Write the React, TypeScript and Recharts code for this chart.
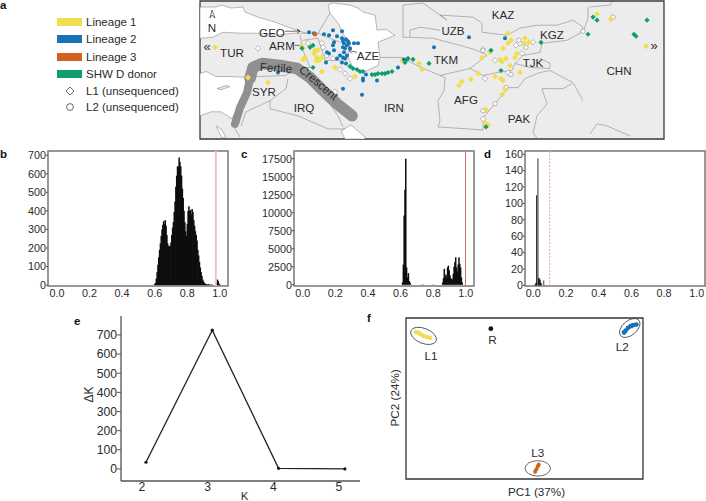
import React from 'react';
import { ComposedChart, ScatterChart, Scatter, Bar, Line, XAxis, YAxis, ReferenceLine, ReferenceArea } from 'recharts';

const FONT = '"Liberation Sans", Arial, sans-serif';
const INK = '#2b2b2b';
const YELLOW = '#F0DE50';
const BLUE = '#1474B5';
const ORANGE = '#D2601F';
const GREEN = '#0E9E6E';

type P = [number, number];

// ---------- legend ----------
const lineageNames = ['Lineage 1', 'Lineage 2', 'Lineage 3', 'SHW D donor'];
const lineageColors = [YELLOW, BLUE, ORANGE, GREEN];
const unsequencedNames = ['L1 (unsequenced)', 'L2 (unsequenced)'];

// ---------- map (map grid units) ----------
const blackSea: P[] = [[200,7],[216,7],[221,5],[231,8],[243,7],[245,12],[258,17],[275,22],[291,28],[306,33],[293,33],[278,35],[261,33],[241,33],[223,32],[213,37],[200,38]];
const mediterranean: P[] = [[200,73],[206,71],[216,76],[231,76],[248,77],[248,83],[243,96],[236,110],[232,118],[221,111],[211,111],[200,115]];
const cyprus: P[] = [[217,88],[226,85],[230,86],[221,89]];
const redSea: P[] = [[216,125],[221,128],[226,136],[222,137]];
const persianGulf: P[] = [[341,130],[351,124],[365,136],[365,138],[345,138]];
const caspian: P[] = [[328,5],[333,3],[350,5],[358,8],[363,12],[375,15],[377,30],[386,29],[395,35],[378,42],[380,57],[378,65],[363,72],[353,67],[348,57],[350,43],[345,37],[338,23],[330,13]];
const seas = [blackSea, mediterranean, redSea, persianGulf, caspian];

const crescentLevant: P[] = [[235,123],[240,107],[247,92],[250,78]];
const crescentArc: P[] = [[250,78],[253,67],[262,63],[280,65],[297,68],[310,77],[323,90],[337,103],[352,115]];

const borders: P[][] = [
  [[248,78],[258,76],[285,75],[295,70],[310,67]],
  [[288,78],[286,88],[270,100],[246,111],[241,125]],
  [[270,100],[270,108],[298,115],[328,128],[345,128]],
  [[233,125],[240,136]],
  [[305,70],[315,78],[325,90],[331,105],[338,115],[343,126]],
  [[300,35],[303,50],[310,67]],
  [[306,33],[318,33],[330,38],[340,42]],
  [[303,40],[318,38],[322,50],[325,60],[340,60],[348,57]],
  [[330,13],[318,33]],
  [[380,57],[402,57],[417,65],[433,72],[445,77],[444,90],[438,100],[440,120],[438,126],[483,129]],
  [[483,129],[483,117],[495,103],[508,87],[518,87],[525,78],[540,72],[550,70]],
  [[440,75],[470,68],[483,75],[497,72],[512,70],[515,63],[530,67],[550,68],[550,63],[540,58]],
  [[403,5],[403,37],[410,37],[410,30],[420,27],[440,30]],
  [[403,5],[423,3],[447,20],[440,15],[473,17],[482,23],[482,32],[507,35],[520,28],[537,25],[557,25],[573,20],[583,27],[580,33],[567,40],[542,43],[540,52],[523,55],[515,63]],
  [[410,37],[433,38],[460,45],[477,50],[487,55],[470,68]],
  [[590,7],[610,5],[612,2]],
  [[583,32],[588,18],[588,7]],
  [[550,70],[573,82],[583,100]],
  [[542,88],[563,88],[572,83]],
  [[542,88],[547,103],[537,115],[533,132],[537,137]],
  [[590,133],[597,123],[607,125],[630,135]],
];

const leaderLines: P[][] = [
  [[285,31],[300,31],[297,29],[300,31],[297,33]],
  [[295,45],[302,45]],
  [[357,52],[349,50],[352,48],[349,50],[352,53]],
  [[210,18],[212,10],[215,18],[212,15],[210,18]],
];

const bluePoints: P[] = [[309,32],[314,33],[324,34],[329,35],[333,30],[342,31],[337,36],[334,42],[333,45],[342,38],[343,41],[346,39],[348,41],[344,43],[347,45],[343,47],[345,48],[349,43],[354,43],[358,43],[350,48],[344,52],[340,55],[343,57],[345,58],[347,55],[342,62],[346,63],[337,58],[334,50],[329,53],[326,62],[343,88],[362,94],[366,74],[363,78],[363,80],[377,80],[398,67],[434,47],[407,59],[404,59],[327,52],[278,72],[469,37],[505,38]];
const greenPoints: P[] = [[313,67],[302,48],[310,47],[313,45],[350,66],[353,68],[357,69],[360,71],[363,71],[372,74],[375,74],[378,73],[382,73],[385,73],[388,72],[392,71],[405,62],[413,59],[429,63],[408,58],[491,50],[501,70],[541,42],[593,17],[597,20],[588,34],[647,20],[634,34],[636,36],[486,126]];
const yellowPoints: P[] = [[302,46],[315,50],[318,50],[314,53],[317,57],[322,57],[319,60],[316,60],[305,57],[303,59],[322,71],[335,67],[355,76],[248,77],[268,82],[215,47],[402,60],[419,63],[422,69],[508,33],[511,40],[508,43],[503,48],[525,38],[529,42],[524,43],[517,53],[515,57],[482,57],[490,52],[500,59],[506,58],[510,65],[502,61],[478,73],[495,76],[501,78],[503,80],[520,72],[471,79],[462,81],[459,85],[505,89],[502,94],[486,109],[485,122],[488,124],[597,14],[611,19],[646,46]];
const orangePoints: P[] = [[315,34]];
const whiteDiamonds: P[] = [[258,48],[322,43],[308,43],[333,58],[340,69],[345,73],[350,78],[335,91],[327,55],[323,47],[483,49],[495,60],[508,72],[485,78],[520,43],[516,45],[522,53],[533,42],[483,118]];
const whiteCircles: P[] = [[483,50],[506,87],[495,103],[483,110],[583,31],[613,17],[511,74],[519,40],[526,47]];

const countryNames = ['TUR','GEO','ARM','AZE','SYR','IRQ','IRN','TKM','UZB','KAZ','KGZ','TJK','AFG','PAK','CHN','N'];
const countryX = [232,272,282,368,264,304,394,446,453,503,552,533,466,519,619,212];
const countryY = [52,32,45,55,91,107,107,59,30,14,34,62,99,118,70,27];

// ---------- histograms ----------
const binsB = [0.595,0.6,0.605,0.61,0.615,0.62,0.625,0.63,0.635,0.64,0.645,0.65,0.655,0.66,0.665,0.67,0.675,0.68,0.685,0.69,0.695,0.7,0.705,0.71,0.715,0.72,0.725,0.73,0.735,0.74,0.745,0.75,0.755,0.76,0.765,0.77,0.775,0.78,0.785,0.79,0.795,0.8,0.805,0.81,0.815,0.82,0.825,0.83,0.835,0.84,0.845,0.85,0.855,0.86,0.865,0.87,0.875,0.88,0.885,0.89,0.895,0.9,0.905,0.91,0.915,0.92,0.925,0.93,0.935,0.94,0.945,0.95,0.975,0.98,0.985,0.99,0.995,1.0];
const countsB = [0,5,12,35,70,110,150,190,225,265,300,325,345,330,350,320,270,225,210,212,208,230,270,310,340,395,450,530,590,640,640,688,665,640,590,520,470,400,340,290,265,330,400,425,400,405,380,410,395,350,320,290,270,240,190,160,125,95,70,50,30,20,12,8,5,4,3,5,2,1,2,3,6,12,30,22,8,3];

const binsC = [0.612,0.617,0.622,0.627,0.632,0.637,0.642,0.648,0.654,0.66,0.735,0.8,0.858,0.863,0.868,0.873,0.878,0.883,0.888,0.893,0.898,0.903,0.908,0.913,0.918,0.923,0.928,0.933,0.938,0.943,0.948,0.953,0.958,0.963,0.968,0.973,0.978];
const countsC = [300,2800,9600,13200,17500,2400,1000,1600,500,250,60,40,300,900,2200,1200,1400,1000,2400,2650,2000,1300,900,800,700,1500,2500,3100,3800,2400,1800,2800,3800,2900,2400,1000,300];

const binsD = [0.012,0.017,0.022,0.028,0.034,0.04,0.046,0.063];
const countsD = [1,3,110,155,9,7,3,6];
const grayBinsD = [0.028, 0.063];

// ---------- delta K ----------
const kValues = [2.06, 3.07, 4.08, 5.09];
const deltaK = [35, 725, 3, 0];

// ---------- PCA ----------
const pcaL1: P[] = [[4.2,91.2],[5.2,90.8],[5.9,90.2],[6.9,89.3],[7.7,88.7],[9,88.1],[10.1,87.7]];
const pcaL2: P[] = [[92,91],[92.7,92.2],[93.7,93.9],[94.8,94.9],[95.8,95.5],[97.2,95.9]];
const pcaL3: P[] = [[54.5,4.5],[55,6.1],[55.6,7.8],[56,9]];
const pcaR: P[] = [[35.8,93.4]];
const pcaEllipseCentres: P[] = [[7.4,88.9],[94.4,93.8],[55.6,6.6]];
const pcaLabelNames = ['L1','L2','L3','R'];
const pcaLabelX = [10.5,91.3,55.6,36.5];
const pcaLabelY = [77,82.5,16.5,86.5];

const xy = (pts: P[]) => pts.map(([x, y]) => ({ x, y }));

const pathOf = (points: any[], close: boolean) =>
  points.map((q, i) => `${i ? 'L' : 'M'}${q.x ?? q.cx},${q.y ?? q.cy}`).join('') + (close ? 'Z' : '');

const noMark = () => <g />;

const Diamond = (s: number, fill: string, stroke = 'none', sw = 0) => (p: any) => (
  <path d={`M${p.cx},${p.cy - s}L${p.cx + s},${p.cy}L${p.cx},${p.cy + s}L${p.cx - s},${p.cy}Z`} fill={fill} stroke={stroke} strokeWidth={sw} />
);
const Dot = (r: number, fill: string, stroke = 'none', sw = 0) => (p: any) => (
  <circle cx={p.cx} cy={p.cy} r={r} fill={fill} stroke={stroke} strokeWidth={sw} />
);

function polygon(pts: P[], fill: string, key: string) {
  return (
    <Scatter key={key} data={xy(pts)} isAnimationActive={false} shape={noMark}
      line={(p: any) => <path d={pathOf(p.points, true)} fill={fill} stroke="#777" strokeWidth={0.5} />} />
  );
}
function polyline(pts: P[], stroke: string, width: number, key: string, round = false) {
  return (
    <Scatter key={key} data={xy(pts)} isAnimationActive={false} shape={noMark}
      line={(p: any) => <path d={pathOf(p.points, false)} fill="none" stroke={stroke} strokeWidth={width}
        strokeLinecap={round ? 'round' : 'butt'} strokeLinejoin="round" />} />
  );
}
function labelAt(text: string, x: number, y: number, size: number, rotate = 0, key = text) {
  return (
    <Scatter key={key} data={[{ x, y }]} isAnimationActive={false}
      shape={(p: any) => (
        <text x={p.cx} y={p.cy} textAnchor="middle" dominantBaseline="central" fontFamily={FONT} fontSize={size}
          fill={INK} transform={rotate ? `rotate(${rotate} ${p.cx} ${p.cy})` : undefined}>{text}</text>
      )} />
  );
}

function MapPanel() {
  return (
    <div style={{ position: 'absolute', left: 198, top: -1 }}>
      <ScatterChart width={468} height={142} margin={{ left: 2, right: 2, top: 2, bottom: 2 }}>
        <XAxis type="number" dataKey="x" domain={[200, 664]} hide />
        <YAxis type="number" dataKey="y" domain={[1, 138]} reversed hide width={0} />
        <ReferenceArea x1={200} x2={664} y1={1} y2={138} fill="#ECECEC" fillOpacity={1} stroke="none" />
        {seas.map((s, i) => polygon(s, '#ffffff', `sea${i}`))}
        {polygon(cyprus, '#ECECEC', 'cyprus')}
        {borders.map((b, i) => polyline(b, '#777', 0.5, `b${i}`))}
        {polyline(crescentLevant, '#909090', 8, 'bandLevant', true)}
        {polyline(crescentArc, '#909090', 11.5, 'bandArc', true)}
        {leaderLines.map((b, i) => polyline(b, '#333', 0.7, `l${i}`))}
        <Scatter data={xy(whiteDiamonds)} isAnimationActive={false} shape={Diamond(2.8, '#fff', '#888', 0.6)} />
        <Scatter data={xy(whiteCircles)} isAnimationActive={false} shape={Dot(2.2, '#fff', '#888', 0.6)} />
        <Scatter data={xy(yellowPoints)} isAnimationActive={false} shape={Diamond(3, YELLOW)} />
        <Scatter data={xy(bluePoints)} isAnimationActive={false} shape={Dot(2, BLUE)} />
        <Scatter data={xy(orangePoints)} isAnimationActive={false} shape={Dot(2.2, ORANGE)} />
        <Scatter data={xy(greenPoints)} isAnimationActive={false} shape={Diamond(2.6, GREEN)} />
        {countryNames.map((n, i) => labelAt(n, countryX[i], countryY[i], 11.6))}
        {labelAt('Fertile', 276, 67, 11.6, 3)}
        {labelAt('Crescent', 319, 82, 11.6, 40)}
        {labelAt('«', 207, 46, 13)}
        {labelAt('»', 654, 45, 13)}
        <ReferenceArea x1={200} x2={664} y1={1} y2={138} fill="none" stroke="#3a3a3a" strokeWidth={1.3} />
      </ScatterChart>
    </div>
  );
}

type HistProps = {
  left: number; right: number; bins: number[]; counts: number[]; yTicks: number[];
  domainX: [number, number]; domainY: [number, number]; refX: number; refColor: string; refWidth: number;
  refDash?: string; barWidth: number; gray?: number[];
};

function Histogram({ left, right, bins, counts, yTicks, domainX, domainY, refX, refColor, refWidth, refDash, barWidth, gray = [] }: HistProps) {
  const yW = 36;
  const table = bins.map((x, i) => ({ x, n: counts[i] }));
  const binShape = (p: any) => (
    <rect x={p.x + p.width / 2 - barWidth / 2} y={p.y} width={barWidth} height={Math.max(p.height, 0)}
      fill={gray.includes(p.payload?.x) ? '#777' : '#0d0d0d'} />
  );
  return (
    <div style={{ position: 'absolute', left: left - yW - 2, top: 147 }}>
      <ComposedChart width={right - left + yW + 8} height={160} data={table}
        margin={{ left: 2, right: 6, top: 4, bottom: 0 }}>
        <XAxis type="number" dataKey="x" domain={domainX} ticks={[0, 0.2, 0.4, 0.6, 0.8, 1]} tickFormatter={(v: number) => v.toFixed(1)}
          axisLine={false} tickLine={false} tickSize={0} tick={{ fontSize: 10.8, fontFamily: FONT, fill: INK }} tickMargin={3} height={21} interval={0} />
        <YAxis type="number" domain={domainY} ticks={yTicks} width={yW} axisLine={false} tickSize={2} tickMargin={0} interval={0}
          tickLine={{ stroke: '#555' }} tick={{ fontSize: 10.8, fontFamily: FONT, fill: INK }} />
        <Bar dataKey="n" isAnimationActive={false} fill="#0d0d0d" shape={binShape} />
        <ReferenceLine x={refX} stroke={refColor} strokeWidth={refWidth} strokeDasharray={refDash} />
        <ReferenceArea x1={domainX[0]} x2={domainX[1]} y1={domainY[0]} y2={domainY[1]} fill="none" stroke="#777" strokeWidth={1.5} />
      </ComposedChart>
    </div>
  );
}

function DeltaKPanel() {
  const table = kValues.map((k, i) => ({ k, d: deltaK[i] }));
  return (
    <div style={{ position: 'absolute', left: 75, top: 314 }}>
      <ComposedChart width={287} height={187} data={table} margin={{ left: 0, right: 2, top: 2, bottom: 0 }}>
        <XAxis type="number" dataKey="k" domain={[1.68, 5.32]} ticks={[2, 3, 4, 5]} interval={0}
          axisLine={{ stroke: '#555', strokeWidth: 1.5 }} tickLine={false} tickSize={0} tickMargin={1} height={20}
          tick={{ fontSize: 12.2, fontFamily: FONT, fill: INK }}
          label={{ value: 'K', position: 'insideBottom', offset: 1, fontSize: 11.5, fontFamily: FONT, fill: INK, dx: 4 }} />
        <YAxis type="number" domain={[-63, 799]} ticks={[0, 100, 200, 300, 400, 500, 600, 700]} interval={0} width={46}
          axisLine={{ stroke: '#333', strokeWidth: 1.1 }} tickSize={4} tickMargin={0} tickLine={{ stroke: '#555' }}
          tick={{ fontSize: 12.2, fontFamily: FONT, fill: INK }}
          label={{ value: 'ΔK', angle: -90, position: 'insideLeft', offset: 14, fontSize: 12, fontFamily: FONT, fill: INK, dy: 4 }} />
        <Line dataKey="d" type="linear" stroke="#222" strokeWidth={1.3} isAnimationActive={false}
          dot={{ r: 1.6, fill: '#111', stroke: '#111', strokeWidth: 0 }} />
      </ComposedChart>
    </div>
  );
}

const ellipseShapes = [
  { rx: 13.6, ry: 7.5, rot: 22 },
  { rx: 12, ry: 7.2, rot: -40 },
  { rx: 12.7, ry: 7.7, rot: 0 },
];

function PcaPanel() {
  return (
    <div style={{ position: 'absolute', left: 386, top: 316 }}>
      <ScatterChart width={260} height={185} margin={{ left: 0, right: 3, top: 2, bottom: 0 }}>
        <XAxis type="number" dataKey="x" domain={[0, 100]} ticks={[]} axisLine={false} tickLine={false} height={22}
          label={{ value: 'PC1 (37%)', position: 'insideBottom', offset: 5, dx: 12, fontSize: 11.7, fontFamily: FONT, fill: INK }} />
        <YAxis type="number" dataKey="y" domain={[0, 100]} ticks={[]} axisLine={false} tickLine={false} width={20}
          label={{ value: 'PC2 (24%)', angle: -90, position: 'insideLeft', offset: 9, dy: 28, fontSize: 11.7, fontFamily: FONT, fill: INK }} />
        <ReferenceArea x1={0} x2={100} y1={0} y2={100} fill="none" stroke="#333" strokeWidth={1.3} />
        {pcaEllipseCentres.map((c, i) => (
          <Scatter key={i} data={xy([c])} isAnimationActive={false} shape={(p: any) => (
            <ellipse cx={p.cx} cy={p.cy} rx={ellipseShapes[i].rx} ry={ellipseShapes[i].ry} fill="none" stroke="#444" strokeWidth={0.8}
              transform={`rotate(${ellipseShapes[i].rot} ${p.cx} ${p.cy})`} />
          )} />
        ))}
        <Scatter data={xy(pcaL1)} isAnimationActive={false} shape={Dot(2.2, YELLOW)} />
        <Scatter data={xy(pcaL2)} isAnimationActive={false} shape={Dot(2.4, BLUE)} />
        <Scatter data={xy(pcaL3)} isAnimationActive={false} shape={Dot(2, ORANGE)} />
        <Scatter data={xy(pcaR)} isAnimationActive={false} shape={Dot(2.4, '#111')} />
        {pcaLabelNames.map((n, i) => labelAt(n, pcaLabelX[i], pcaLabelY[i], 11.7))}
      </ScatterChart>
    </div>
  );
}

const panelLetters: [string, number, number][] = [['a', 3, 5], ['b', 3, 154], ['c', 244, 154], ['d', 487, 154], ['e', 77, 321], ['f', 370, 318]];
const legendRowY = [22, 39, 57, 74];
const unsequencedRowY = [91, 107];

export default function App() {
  return (
    <div style={{ position: 'absolute', left: 0, top: 0, width: 706, height: 501, background: '#fff', overflow: 'hidden', fontFamily: FONT, color: INK }}>
      {panelLetters.map(([t, x, y]) => (
        <div key={t} style={{ position: 'absolute', left: x - 3, top: y - 7, fontWeight: 700, fontSize: 11.5, lineHeight: '14px', color: '#111' }}>{t}</div>
      ))}
      {lineageNames.map((n, i) => (
        <div key={n}>
          <div style={{ position: 'absolute', left: 57, top: legendRowY[i] - 4, width: 25, height: 8, background: lineageColors[i] }} />
          <div style={{ position: 'absolute', left: 86, top: legendRowY[i] - 7, fontSize: 11.5, lineHeight: '14px' }}>{n}</div>
        </div>
      ))}
      {unsequencedNames.map((n, i) => (
        <div key={n}>
          <svg style={{ position: 'absolute', left: 63, top: unsequencedRowY[i] - 6 }} width={14} height={12}>
            {i === 0
              ? <path d="M7,2L11,6L7,10L3,6Z" fill="#fff" stroke="#444" strokeWidth={0.8} />
              : <circle cx={7} cy={6} r={3.4} fill="#fff" stroke="#444" strokeWidth={0.8} />}
          </svg>
          <div style={{ position: 'absolute', left: 86, top: unsequencedRowY[i] - 7, fontSize: 11.5, lineHeight: '14px' }}>{n}</div>
        </div>
      ))}
      <MapPanel />
      <Histogram left={48} right={228} bins={binsB} counts={countsB} yTicks={[0,100,200,300,400,500,600,700]}
        domainX={[-0.055, 1.05]} domainY={[-5, 723]} refX={0.975} refColor="#EFC4C4" refWidth={2} barWidth={1.5} />
      <Histogram left={294} right={474} bins={binsC} counts={countsC} yTicks={[0,2500,5000,7500,10000,12500,15000,17500]}
        domainX={[-0.053, 1.05]} domainY={[-185, 18570]} refX={0.998} refColor="#C9706A" refWidth={1} barWidth={1.5} />
      <Histogram left={525} right={705} bins={binsD} counts={countsD} yTicks={[0,20,40,60,80,100,120,140,160]}
        domainX={[-0.051, 1.05]} domainY={[-0.8, 164]} refX={0.1} refColor="#E8B0A8" refWidth={1.2} refDash="2 1.5" barWidth={1.5} gray={grayBinsD} />
      <DeltaKPanel />
      <PcaPanel />
    </div>
  );
}
